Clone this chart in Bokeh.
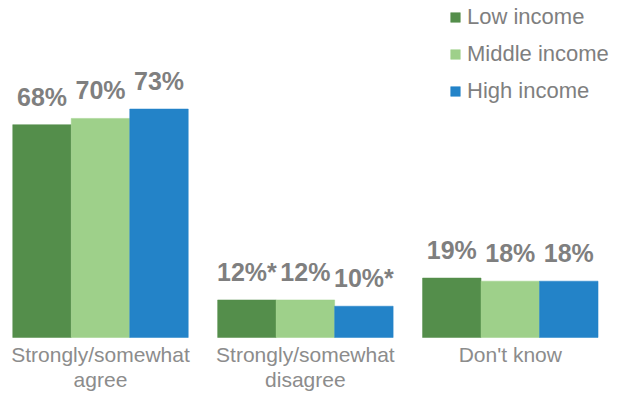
from bokeh.plotting import figure
from bokeh.models import ColumnDataSource, Range1d, Legend, LegendItem
from bokeh.core.properties import value
from bokeh.embed import file_html
from bokeh.resources import INLINE

categories = ["Strongly/somewhat\nagree", "Strongly/somewhat\ndisagree", "Don't know"]
series = ["Low income", "Middle income", "High income"]
low = [68, 12, 19]
middle = [70, 12, 18]
high = [73, 10, 18]
marks_low = ["", "*", ""]
marks_middle = ["", "", ""]
marks_high = ["", "*", ""]
colors = ["#548E4B", "#9ED08A", "#2383C8"]

W, H = 623, 391
p = figure(width=W, height=H, output_backend="svg", toolbar_location=None,
           x_range=Range1d(-0.488, 2.5525), y_range=Range1d(-17.25, 107.67),
           min_border=0, outline_line_color=None)
p.axis.visible = False
p.grid.visible = False
p.background_fill_color = "white"

bw = 0.2855
renderers = []
for i, (vals, marks) in enumerate([(low, marks_low), (middle, marks_middle), (high, marks_high)]):
    xs = [g + (i - 1) * bw for g in range(len(categories))]
    src = ColumnDataSource(dict(x=xs, top=vals,
                                lab=[f"{v}%{m}" for v, m in zip(vals, marks)]))
    r = p.vbar(x="x", top="top", bottom=0, width=bw, source=src,
               fill_color=colors[i], line_color=colors[i], line_width=0.5)
    renderers.append(r)
    p.text(x="x", y="top", text="lab", source=src, text_align="center",
           text_baseline="bottom", y_offset=-14,
           text_font=value("Liberation Sans"), text_font_style="bold",
           text_font_size="25px", text_color="#7F7F7F")

csrc = ColumnDataSource(dict(x=list(range(len(categories))), y=[0] * len(categories), t=categories))
p.text(x="x", y="y", text="t", source=csrc, text_align="center", text_baseline="top",
       y_offset=5, text_font=value("Liberation Sans"), text_font_size="21px",
       text_color="#8C8C8C", text_line_height=1.1)

legend = Legend(items=[LegendItem(label=s, renderers=[r]) for s, r in zip(series, renderers)],
                location=(449, H - 104), orientation="vertical",
                glyph_width=12, glyph_height=12, label_standoff=6, spacing=11,
                label_text_font="Liberation Sans", label_text_font_size="22px",
                label_text_color="#7F7F7F", padding=0, margin=0,
                border_line_color=None, background_fill_alpha=0)
p.add_layout(legend)

open("out.html", "w").write(file_html(p, INLINE))
